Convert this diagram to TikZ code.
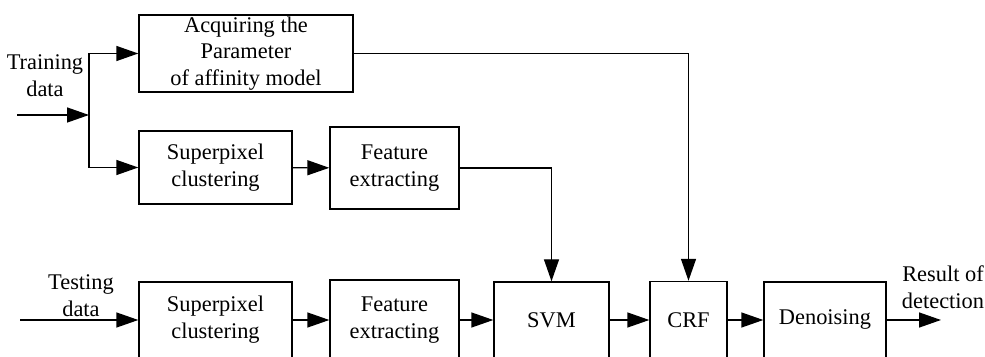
\documentclass[tikz,border=0pt]{standalone}
\usepackage{fontspec}
\setmainfont{Liberation Serif}
\usetikzlibrary{arrows.meta, positioning}

\begin{document}
\begin{tikzpicture}[
  x=0.5pt, y=-0.5pt,
  every node/.style={font=\fontsize{11.2}{13.4}\selectfont},
  block/.style={rectangle, draw, line width=0.7pt, inner sep=0.5pt, align=center},
  tag/.style={align=center, inner sep=0pt, anchor=south},
  flow/.style={line width=0.7pt, -{Triangle[length=11pt, width=7.5pt]}},
]
\clip (0,0) rectangle (985,357);

% Training path
\node[block, minimum width=107pt, minimum height=38.5pt] (acq) at (246,53.5) {Acquiring the\\Parameter\\of affinity model};
\node[block, minimum width=76.5pt, minimum height=36.5pt] (spTrain) at (215.5,167.5) {Superpixel\\clustering};
\node[block, minimum width=64.5pt, minimum height=41pt] (feTrain) at (394.5,168) {Feature\\extracting};

% Testing path (boxes run off the bottom edge)
\node[block, minimum width=76.5pt, minimum height=38pt] (spTest) at (215.5,320) {Superpixel\\clustering};
\node[block, minimum width=64.5pt, minimum height=40pt] (feTest) at (394.5,320) {Feature\\extracting};
\node[block, minimum width=57.5pt, minimum height=38pt] (svm) at (551.5,320) {SVM};
\node[block, minimum width=38.5pt, minimum height=38.5pt] (crf) at (688.5,320) {CRF};
\node[block, minimum width=61pt, minimum height=38pt] (den) at (825,320) {Denoising};

% Labels
\node[tag] (trainLbl) at (45,97) {Training\\data};
\node[tag] (testLbl) at (81,317) {Testing\\data};
\node[tag] (resLbl) at (943,309) {Result of\\detection};

\coordinate (trainIn) at (17,115);
\coordinate (branch) at (89,115);
\coordinate (testIn) at (20,320);
\coordinate (resOut) at (941,320);

% Connectors
\draw[flow] (trainIn) -- (branch);
\draw[flow] (branch) |- (acq.west);
\draw[flow] (branch) |- (spTrain.west);
\draw[flow] (spTrain) -- (feTrain);
\draw[flow] (feTrain.east) -| (svm.north);
\draw[flow] (acq.east) -| (crf.north);

\draw[flow] (testIn) -- (spTest);
\draw[flow] (spTest) -- (feTest);
\draw[flow] (feTest) -- (svm);
\draw[flow] (svm) -- (crf);
\draw[flow] (crf) -- (den);
\draw[flow] (den) -- (resOut);

\end{tikzpicture}
\end{document}
